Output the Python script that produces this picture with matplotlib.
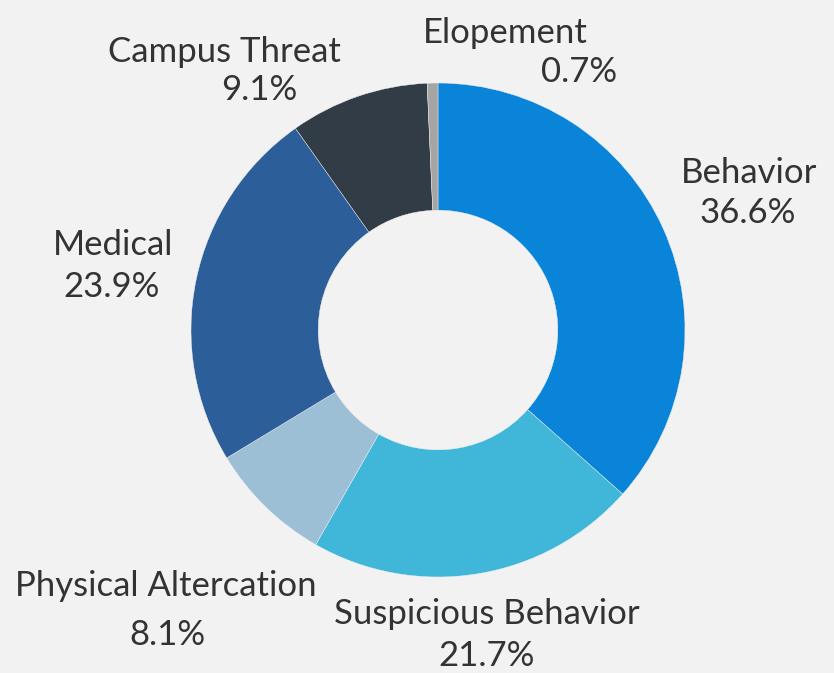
import matplotlib.pyplot as plt

plt.rcParams['font.family'] = ['Lato', 'DejaVu Sans']

categories = ['Behavior', 'Suspicious Behavior', 'Physical Altercation',
              'Medical', 'Campus Threat', 'Elopement']
shares = [36.6, 21.7, 8.1, 23.9, 9.1, 0.7]
colors = ['#0984d8', '#40b6d8', '#9dbfd6', '#2c5e99', '#323c47', '#a5a5a5']

# pixel layout of the reference: ring centre and outer radius
cx, cy, R = 438, 330, 247
# label anchors in pixels: (name x, name baseline, pct x, pct baseline)
label_px = [(749, 183, 748, 223), (487, 624, 487, 666), (166, 596, 167, 645),
            (113, 255, 112, 297), (224, 62, 259, 100), (505, 43, 579, 82)]

fig = plt.figure(figsize=(8.34, 6.73), dpi=100)
fig.patch.set_facecolor('#f2f2f2')
ax = fig.add_axes([0, 0, 1, 1])
ax.set_facecolor('#f2f2f2')

ax.pie(shares, colors=colors, startangle=90, counterclock=False, radius=1,
       wedgeprops=dict(width=0.515, edgecolor='#f2f2f2', linewidth=0.3))

for name, v, (nx, ny, px, py) in zip(categories, shares, label_px):
    ax.text((nx - cx) / R, (cy - ny) / R, name, ha='center', va='baseline',
            fontsize=25, color='#333333')
    ax.text((px - cx) / R, (cy - py) / R, '%.1f%%' % v, ha='center',
            va='baseline', fontsize=25, color='#333333')

ax.set_xlim(-cx / R, (834 - cx) / R)
ax.set_ylim(-(673 - cy) / R, cy / R)
ax.set_aspect('auto')
ax.axis('off')

fig.savefig('out.png', dpi=100, facecolor=fig.get_facecolor())
